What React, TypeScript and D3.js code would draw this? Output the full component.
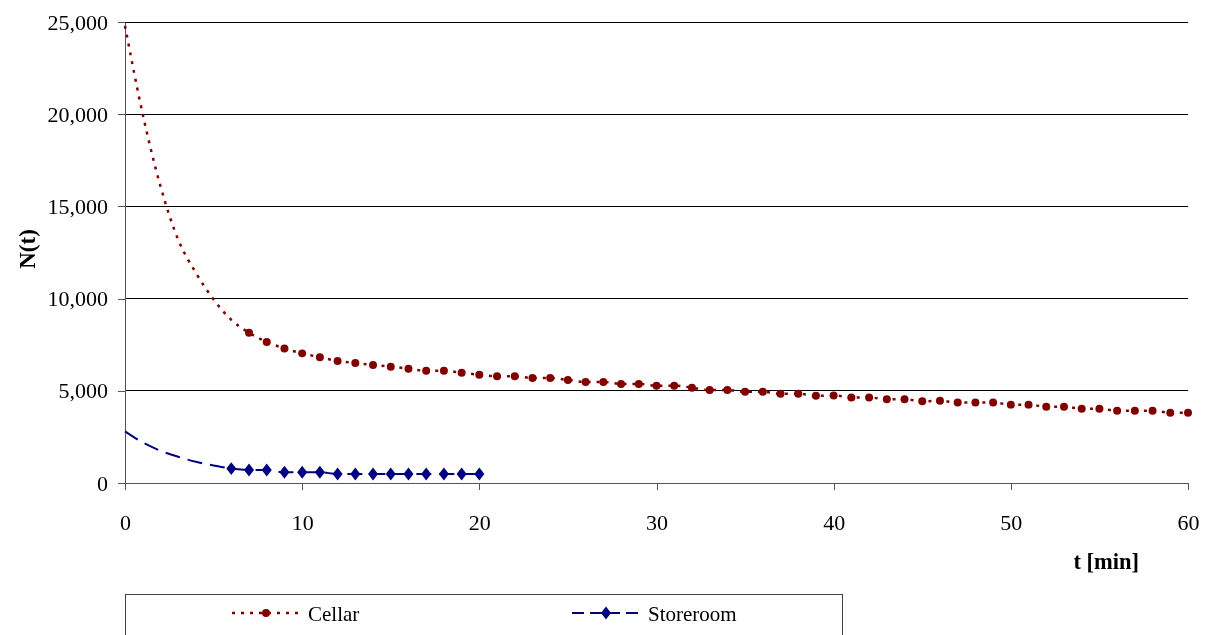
import { useEffect, useRef } from 'react'
import * as d3 from 'd3'

// minutes since start
const TIME_MIN = [
  0, 1, 2, 3, 4, 5, 6, 7, 8, 9, 10, 11, 12, 13, 14, 15, 16, 17, 18, 19, 20,
  21, 22, 23, 24, 25, 26, 27, 28, 29, 30, 31, 32, 33, 34, 35, 36, 37, 38, 39, 40,
  41, 42, 43, 44, 45, 46, 47, 48, 49, 50, 51, 52, 53, 54, 55, 56, 57, 58, 59, 60,
]

const CELLAR = [
  24800, 20000, 16100, 13200, 11400, 9950, 8850, 8150, 7650, 7300, 7030,
  6820, 6620, 6510, 6400, 6310, 6200, 6090, 6090, 5980, 5870,
  5790, 5790, 5690, 5690, 5590, 5480, 5480, 5370, 5370, 5280,
  5280, 5170, 5040, 5040, 4950, 4950, 4840, 4840, 4730, 4750,
  4640, 4640, 4540, 4540, 4430, 4460, 4360, 4360, 4360, 4250,
  4250, 4140, 4140, 4030, 4030, 3920, 3920, 3920, 3810, 3810,
]

const STOREROOM = [
  2800, 2200, 1750, 1420, 1150, 950, 780, 705, 705, 580, 580,
  580, 490, 490, 490, 490, 490, 490, 490, 490, 490,
]

// first minute that carries a marker
const CELLAR_MARKER_FROM = 7
const STOREROOM_MARKER_FROM = 6

const Y_TICKS = [0, 5000, 10000, 15000, 20000, 25000]
const X_TICKS = [0, 10, 20, 30, 40, 50, 60]

const W = 1205
const H = 635
const PLOT = { left: 125, right: 1188, top: 22, bottom: 483 }
const FONT = 'Liberation Serif, DejaVu Serif, serif'
const RED = '#800000'
const NAVY = '#000080'

function App() {
  const ref = useRef<SVGSVGElement>(null)

  useEffect(() => {
    const svg = d3.select(ref.current)
    svg.selectAll('*').remove()

    const x = d3.scaleLinear().domain([0, 60]).range([PLOT.left, PLOT.right])
    const y = d3.scaleLinear().domain([0, 25000]).range([PLOT.bottom, PLOT.top])

    // gridlines
    svg
      .append('g')
      .selectAll('line')
      .data(Y_TICKS.filter((v) => v > 0))
      .join('line')
      .attr('x1', PLOT.left)
      .attr('x2', PLOT.right)
      .attr('y1', (d) => y(d))
      .attr('y2', (d) => y(d))
      .attr('stroke', '#000')
      .attr('stroke-width', 1)
      .attr('shape-rendering', 'crispEdges')

    const yAxis = svg
      .append('g')
      .attr('transform', `translate(${PLOT.left},0)`)
      .call(
        d3
          .axisLeft(y)
          .tickValues(Y_TICKS)
          .tickFormat(d3.format(','))
          .tickSize(7)
          .tickSizeOuter(0)
          .tickPadding(10),
      )
    const xAxis = svg
      .append('g')
      .attr('transform', `translate(0,${PLOT.bottom})`)
      .call(
        d3
          .axisBottom(x)
          .tickValues(X_TICKS)
          .tickSize(7)
          .tickSizeOuter(0)
          .tickPadding(24),
      )
    ;[yAxis, xAxis].forEach((g) => {
      g.attr('font-family', FONT).attr('font-size', 22)
      g.select('.domain').attr('stroke', '#555').attr('shape-rendering', 'crispEdges')
      g.selectAll('.tick line').attr('stroke', '#555').attr('shape-rendering', 'crispEdges')
      g.selectAll('.tick text').attr('fill', '#000')
    })

    // axis titles
    svg
      .append('text')
      .attr('transform', `translate(35,249) rotate(-90)`)
      .attr('text-anchor', 'middle')
      .attr('font-family', FONT)
      .attr('font-weight', 'bold')
      .attr('font-size', 23)
      .text('N(t)')
    svg
      .append('text')
      .attr('x', 1139)
      .attr('y', 569)
      .attr('text-anchor', 'end')
      .attr('font-family', FONT)
      .attr('font-weight', 'bold')
      .attr('font-size', 22.5)
      .text('t [min]')

    const line = d3
      .line<number>()
      .x((_, i) => x(TIME_MIN[i]))
      .y((d) => y(d))
      .curve(d3.curveMonotoneX)

    svg
      .append('path')
      .attr('d', line(CELLAR) ?? '')
      .attr('fill', 'none')
      .attr('stroke', RED)
      .attr('stroke-width', 2.5)
      .attr('stroke-dasharray', '3 6')

    svg
      .append('path')
      .attr('d', line(STOREROOM) ?? '')
      .attr('fill', 'none')
      .attr('stroke', NAVY)
      .attr('stroke-width', 2)
      .attr('stroke-dasharray', '15 8')

    const circle = d3.symbol(d3.symbolCircle, 50)
    const diamond = d3.symbol(d3.symbolDiamond, 48)

    svg
      .append('g')
      .selectAll('path')
      .data(CELLAR.map((v, i) => [TIME_MIN[i], v]).filter((p) => p[0] >= CELLAR_MARKER_FROM))
      .join('path')
      .attr('d', circle() ?? '')
      .attr('transform', (d) => `translate(${x(d[0])},${y(d[1])})`)
      .attr('fill', RED)

    svg
      .append('g')
      .selectAll('path')
      .data(
        STOREROOM.map((v, i) => [TIME_MIN[i], v]).filter((p) => p[0] >= STOREROOM_MARKER_FROM),
      )
      .join('path')
      .attr('d', diamond() ?? '')
      .attr('transform', (d) => `translate(${x(d[0])},${y(d[1])}) scale(1.35,1)`)
      .attr('fill', NAVY)

    // legend
    const legend = svg.append('g')
    legend
      .append('rect')
      .attr('x', 125.5)
      .attr('y', 594.5)
      .attr('width', 717)
      .attr('height', 60)
      .attr('fill', 'none')
      .attr('stroke', '#444')

    const items = [
      { label: 'Cellar', color: RED, dash: '3 6', width: 2.5, x0: 232, shape: circle, sx: 1 },
      { label: 'Storeroom', color: NAVY, dash: '12 6', width: 2, x0: 572, shape: diamond, sx: 1.35 },
    ]
    items.forEach((it) => {
      const g = legend.append('g').attr('transform', `translate(${it.x0},613)`)
      g.append('line')
        .attr('x1', 0)
        .attr('x2', 68)
        .attr('stroke', it.color)
        .attr('stroke-width', it.width)
        .attr('stroke-dasharray', it.dash)
      g.append('path')
        .attr('d', it.shape() ?? '')
        .attr('transform', `translate(34,0) scale(${it.sx},1)`)
        .attr('fill', it.color)
      g.append('text')
        .attr('x', 76)
        .attr('y', 8)
        .attr('font-family', FONT)
        .attr('font-size', 21)
        .text(it.label)
    })
  }, [])

  return <svg ref={ref} width={W} height={H} style={{ position: 'fixed', left: 0, top: 0 }} />
}

export default App
